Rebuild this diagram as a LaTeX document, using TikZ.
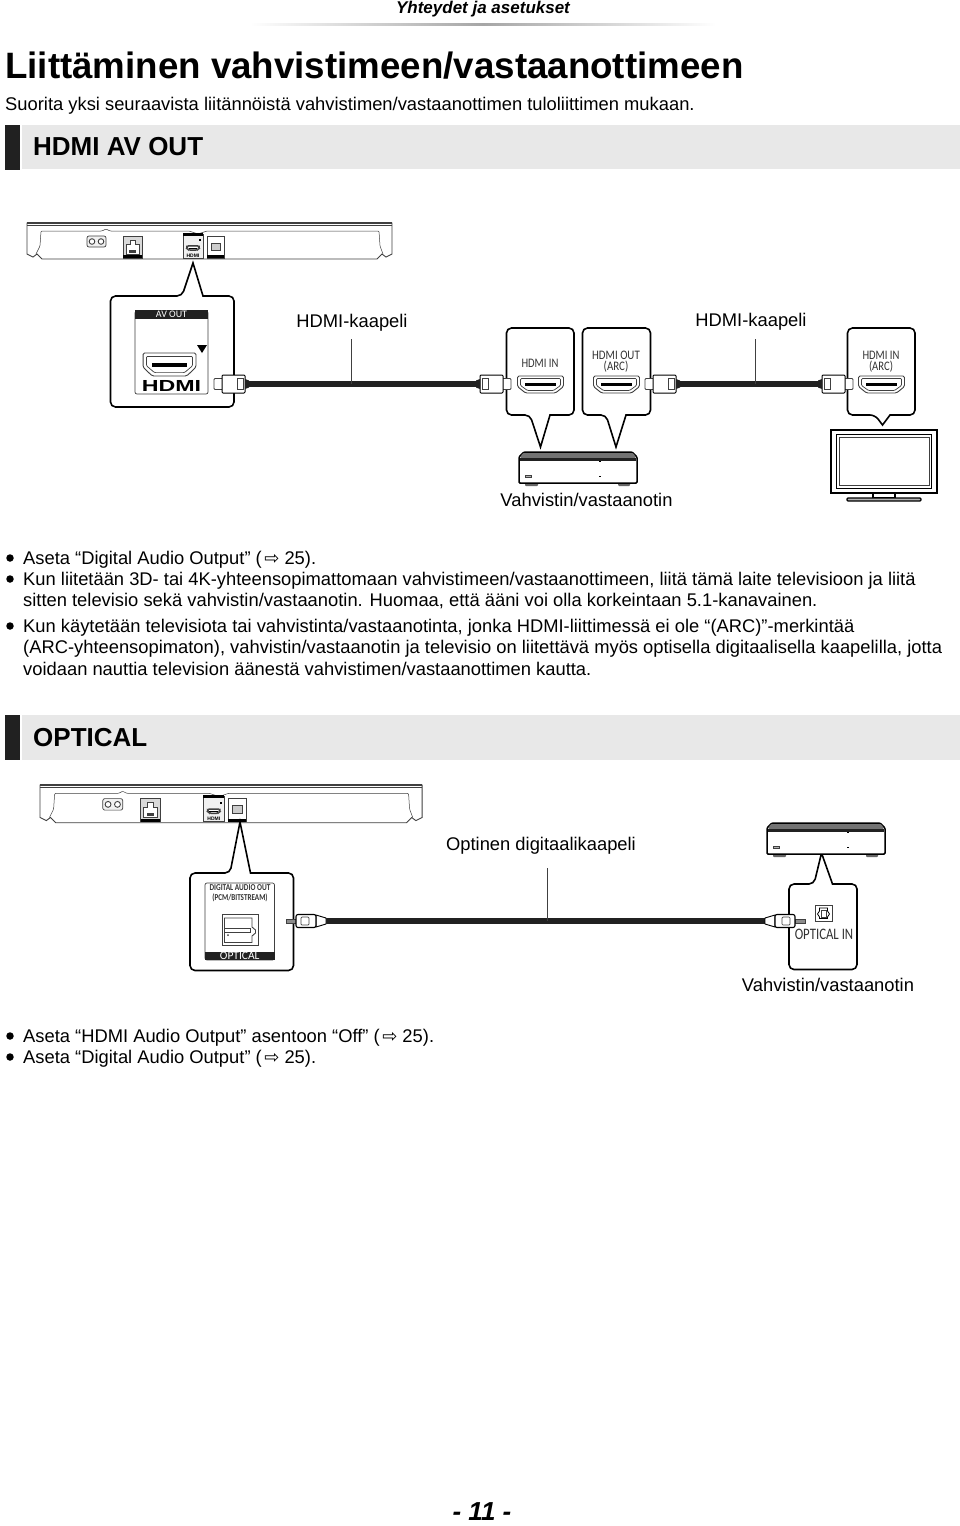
\documentclass[tikz,border=0pt]{standalone}
\usepackage{fontspec}
\setmainfont{Liberation Sans}
\newfontfamily\portfont{Carlito}
\newfontfamily\arrowfont{DejaVu Sans}
\newcommand{\see}{\hspace{2.5pt}{\arrowfont\fontsize{18}{18}\selectfont ⇨}}
\definecolor{bargrey}{gray}{0.91}
\definecolor{barblack}{gray}{0.13}
\definecolor{inkgrey}{gray}{0.25}

\tikzset{
  bodytext/.style={anchor=base west,inner sep=0pt,font=\fontsize{18.35}{20}\selectfont},
  caption/.style={anchor=base,inner sep=0pt,font=\fontsize{18.35}{20}\selectfont},
  heading/.style={anchor=base west,inner sep=0pt,font=\fontsize{26}{30}\selectfont\bfseries},
  bulletdot/.style={circle,fill=black,inner sep=0pt,minimum size=7.5pt},
  portlabel/.style={inner sep=0pt,text=black!80,text height=8pt,text depth=1.5pt,font=\portfont\fontsize{13}{13}\selectfont},
  blackband/.style={fill=barblack,inner sep=0pt,text=white,font=\portfont\fontsize{10}{10}\selectfont},
  callout/.style={draw=black,fill=white,line width=1.6pt},
  thinline/.style={draw=inkgrey,line width=0.7pt},
  cable/.style={line width=5.4pt,draw=barblack},
  leader/.style={draw=inkgrey,line width=0.8pt},
  pics/hdmisocket/.style={code={
    \draw[thinline,line width=0.9pt,fill=white,rounded corners=1.5pt] (-23,-8.5) -- (23,-8.5) -- (23,2) -- (15,8.5) -- (-15,8.5) -- (-23,2) -- cycle;
    \draw[thinline,rounded corners=1pt] (-20,-6) -- (20,-6) -- (20,1) -- (13,6) -- (-13,6) -- (-20,1) -- cycle;
    \fill[black] (-15.5,-1.2) rectangle (15.5,1.6);
  }},
  pics/hdmiplug/.style={code={
    \draw[thinline,line width=0.9pt,fill=white,rounded corners=1pt] (26,-5.5) rectangle (35,5.5);
    \draw[black,line width=1pt,fill=white,rounded corners=1pt] (4,-9) rectangle (27,9);
    \draw[thinline,fill=white] (6,-5.5) rectangle (12,5.5);
    \fill[barblack] (0,-3.5) -- (4,-5) -- (4,5) -- (0,3.5) -- cycle;
  }},
  pics/opticalplug/.style={code={
    \draw[thinline,fill=black!45] (30,-2) rectangle (40,2);
    \draw[black,line width=0.9pt,fill=white] (0,-3) -- (10,-6) -- (10,6) -- (0,3) -- cycle;
    \draw[black,line width=1.1pt,fill=white,rounded corners=2pt] (10,-6.5) rectangle (30,6.5);
    \draw[thinline,fill=white,rounded corners=1pt] (17,-4) rectangle (25,4);
  }},
  pics/rearpanel/.style={code={
    \draw[thinline,line width=0.9pt,fill=white] (0,0) -- (0,31) -- (6,34) -- (10,31) -- (15,36) -- (350,36) -- (355,31) -- (359,34) -- (365,31) -- (365,0) -- cycle;
    \draw[inkgrey,line width=1.3pt] (0,0) -- (365,0);
    \draw[thinline,line width=0.4pt] (0,2) -- (365,2);
    \draw[thinline,line width=0.5pt,rounded corners=1pt] (9,31) -- (13,23) -- (14,8) -- (75,8) -- (79,6) -- (83,8) -- (162,8) -- (171,11) -- (180,8) -- (352,8) -- (353,23) -- (356,31);
    \draw[thinline,fill=black!6,rounded corners=2pt] (60,13) rectangle (79,24);
    \draw[thinline,line width=0.9pt,fill=white] (65,18.5) circle [radius=2.8];
    \draw[thinline,line width=0.9pt,fill=white] (74,18.5) circle [radius=2.8];
    \draw[thinline,fill=black!15] (96,13) rectangle (115,35);
    \draw[thinline,fill=white] (99,21) -- (103,21) -- (103,17) -- (108,17) -- (108,21) -- (112,21) -- (112,31) -- (99,31) -- cycle;
    \fill[inkgrey] (102,27) rectangle (109,30);
    \fill[black] (96,32) rectangle (115,35);
    \draw[thinline,fill=black!6] (156,11) rectangle (176,35);
    \fill[black] (156,10) rectangle (176,12.5);
    \fill[black] (172,16) rectangle (173.8,17.8);
    \pic[scale=0.28] at (166,25) {hdmisocket};
    \node[inner sep=0pt,font=\fontsize{5}{5}\selectfont\bfseries] (-tag) at (166,32.5){HDMI};
    \draw[thinline,fill=white] (180,13) rectangle (197,35);
    \draw[thinline,line width=1pt,fill=black!20] (184,20) rectangle (193,27);
    \fill[black] (180,32) rectangle (197,35);
  }},
  pics/ampfront/.style={code={
    \fill[black!60,rounded corners=1pt] (6,30) rectangle (19,34);
    \fill[black!60,rounded corners=1pt] (99,30) rectangle (111,34);
    \draw[black,line width=1.5pt,fill=white,rounded corners=1pt] (0,5) -- (5,0) -- (113,0) -- (118,5) -- (118,31) -- (0,31) -- cycle;
    \fill[black!55] (3,2) -- (5,1) -- (113,1) -- (115,2) -- (116.5,6) -- (1.5,6) -- cycle;
    \fill[barblack] (1,6) rectangle (117,9);
    \draw[thinline,fill=black!30] (6,23.5) rectangle (12,25.5);
    \fill[black] (80,24) rectangle (81.5,25);
    \fill[black] (80,8.5) rectangle (81.5,9.5);
  }},
  pics/opticalsocket/.style={code={
    \draw[thinline,line width=1pt,fill=white] (-8.5,-8) rectangle (8.5,8);
    \draw[black,line width=0.8pt] (-4,-5) -- (4,-5) -- (4,-2) -- (6,1) -- (4,4) -- (4,5.5) -- (-4,5.5) -- (-4,4) -- (-6,1) -- (-4,-2) -- cycle;
    \draw[thinline] (-2.5,-3) rectangle (2.5,4);
  }}
}

\begin{document}
\begin{tikzpicture}[x=1pt,y=-1pt]
\useasboundingbox (0,0) rectangle (960,1526);

% page header
\node[anchor=base,inner sep=0pt,font=\fontsize{17}{20}\selectfont\bfseries\itshape] (Header) at (483,13){Yhteydet ja asetukset};
\shade[left color=white,right color=white,middle color=black!35] (250,23.5) rectangle (716,25);
\node[anchor=base west,inner sep=0pt,font=\fontsize{36.7}{40}\selectfont\bfseries] (Title) at (5,78){Liittäminen vahvistimeen/vastaanottimeen};
\node[bodytext] (Intro) at (5,110){Suorita yksi seuraavista liitännöistä vahvistimen/vastaanottimen tuloliittimen mukaan.};

% first section
\fill[bargrey] (22,125) rectangle (960,169);
\fill[barblack] (5,125) rectangle (20,169.5);
\node[heading] (HdmiHead) at (33,155){HDMI AV OUT};

\pic (RearA) at (27,223) {rearpanel};

\draw[callout] (182,296) -- (193,263) -- (203,296) [rounded corners=5pt] -- (234,296) -- (234,407) -- (110.5,407) -- (110.5,296) -- cycle;
\draw[thinline,rounded corners=2pt] (135,311) rectangle (208,394);
\node[blackband,minimum width=73pt,text height=7pt,text depth=1.5pt] (AVhead) at (171.5,314.5){AV OUT};
\fill[black] (197,345) -- (207,345) -- (202,353) -- cycle;
\pic[xscale=1.15,yscale=1.35] at (169.5,364.5) {hdmisocket};
\node[inner sep=0pt,font=\fontsize{16}{16}\selectfont\bfseries] (AVlogo) at (171.5,385.5){\scalebox{1.45}[1]{HDMI}};

\draw[callout] (530,415) -- (540.5,447) -- (550,415) [rounded corners=5pt] -- (574,415) -- (574,328) -- (506.5,328) -- (506.5,415) -- cycle;
\draw[callout] (606,415) -- (616,447) -- (626,415) [rounded corners=5pt] -- (650.5,415) -- (650.5,328) -- (582.5,328) -- (582.5,415) -- cycle;
\draw[callout] (875,415) -- (882.5,425) -- (890,415) [rounded corners=5pt] -- (915,415) -- (915,328) -- (847.5,328) -- (847.5,415) -- cycle;

\node[portlabel] (InA) at (540,364){\scalebox{.82}[1]{HDMI IN}};
\node[portlabel] (OutA) at (616,356){\scalebox{.84}[1]{HDMI OUT}};
\node[portlabel] (OutB) at (616,367){\scalebox{.84}[1]{(ARC)}};
\node[portlabel] (InB) at (881,356){\scalebox{.82}[1]{HDMI IN}};
\node[portlabel] (InC) at (881,367){\scalebox{.82}[1]{(ARC)}};
\pic at (540.5,384.5) {hdmisocket};
\pic at (616.5,384.5) {hdmisocket};
\pic at (881.5,384.5) {hdmisocket};

\pic at (519,452) {ampfront};

% television
\draw[black,line width=1.2pt,fill=white] (873,493) rectangle (895,498);
\draw[black,line width=1.2pt,fill=black!30,rounded corners=1pt] (847,498) rectangle (921,501);
\draw[black,line width=1.3pt,fill=white] (831,430) rectangle (937,493);
\draw[black,line width=0.9pt] (836.5,434.5) rectangle (931.5,488);
\draw[thinline,line width=0.4pt] (839,437) rectangle (929,485.5);

\coordinate (PlugA) at (249,384);
\coordinate (PlugB) at (476,384);
\coordinate (PlugC) at (680,384);
\coordinate (PlugD) at (818,384);
\draw[cable] (PlugA) -- (PlugB);
\draw[cable] (PlugC) -- (PlugD);
\pic[xscale=-1] at (PlugA) {hdmiplug};
\pic at (PlugB) {hdmiplug};
\pic[xscale=-1] at (PlugC) {hdmiplug};
\pic at (PlugD) {hdmiplug};

\node[caption] (CableA) at (352,327.5){HDMI-kaapeli};
\node[caption] (CableB) at (751,326){HDMI-kaapeli};
\coordinate (LeadA) at (351,339);
\coordinate (LeadB) at (755,339);
\draw[leader] (LeadA) -- (LeadA |- PlugA);
\draw[leader] (LeadB) -- (LeadB |- PlugC);
\node[caption] (AmpA) at (586.5,506){Vahvistin/vastaanotin};

% notes of the first section
\node[bulletdot] (DotA) at (10,558){};
\node[bodytext] (NoteA) at (23,564){Aseta “Digital Audio Output” (\see{} 25).};
\node[bulletdot] (DotB) at (10,579){};
\node[bodytext] (NoteB) at (23,585){Kun liitetään 3D- tai 4K-yhteensopimattomaan vahvistimeen/vastaanottimeen, liitä tämä laite televisioon ja liitä};
\node[bodytext] (NoteC) at (23,606){sitten televisio sekä vahvistin/vastaanotin. Huomaa, että ääni voi olla korkeintaan 5.1-kanavainen.};
\node[bulletdot] (DotC) at (10,626){};
\node[bodytext] (NoteD) at (23,632){Kun käytetään televisiota tai vahvistinta/vastaanotinta, jonka HDMI-liittimessä ei ole “(ARC)”-merkintää};
\node[bodytext] (NoteE) at (23,653){(ARC-yhteensopimaton), vahvistin/vastaanotin ja televisio on liitettävä myös optisella digitaalisella kaapelilla, jotta};
\node[bodytext] (NoteF) at (23,675){voidaan nauttia television äänestä vahvistimen/vastaanottimen kautta.};

% second section
\fill[bargrey] (22,715) rectangle (960,760);
\fill[barblack] (5,715) rectangle (20,760);
\node[heading] (OptHead) at (33,746){OPTICAL};

\pic[scale=1.047] (RearB) at (40,785) {rearpanel};

\draw[callout] (230,873) -- (240,822) -- (250.5,873) [rounded corners=5pt] -- (293.5,873) -- (293.5,970.5) -- (190,970.5) -- (190,873) -- cycle;
\draw[thinline,rounded corners=2pt] (205,883) rectangle (274.5,960);
\node[portlabel,font=\portfont\fontsize{9}{9}\selectfont\bfseries] (DigA) at (240,887){\scalebox{.81}[1]{DIGITAL AUDIO OUT}};
\node[portlabel,font=\portfont\fontsize{9}{9}\selectfont\bfseries] (DigB) at (240,897){\scalebox{.79}[1]{(PCM/BITSTREAM)}};
\draw[thinline,line width=0.9pt] (222,914) rectangle (258,945.5);
\draw[thinline,line width=0.9pt] (224.5,918) -- (252,918) -- (252,927) -- (255.5,930) -- (255.5,933) -- (252,936) -- (252,942.5) -- (224.5,942.5) -- cycle;
\draw[thinline,line width=0.9pt] (224.5,928) rectangle (250,932.5);
\fill[inkgrey] (228,935) circle [radius=1];
\node[blackband,minimum width=69.5pt,text height=7.5pt,text depth=1pt,font=\portfont\fontsize{11.5}{11.5}\selectfont] (OptBand) at (239.75,955.75){OPTICAL};

\draw[callout] (814,884) -- (821.5,853) -- (832.5,884) [rounded corners=5pt] -- (857,884) -- (857,969.5) -- (789,969.5) -- (789,884) -- cycle;
\pic at (823.5,913) {opticalsocket};
\node[portlabel,text height=11pt,text depth=3pt,font=\portfont\fontsize{16}{16}\selectfont] (OptIn) at (824,935){\scalebox{.8}[1]{OPTICAL IN}};

\pic at (767,823) {ampfront};

\coordinate (PlugE) at (326,921);
\coordinate (PlugF) at (765,921);
\draw[cable] (PlugE) -- (PlugF);
\pic[xscale=-1] at (PlugE) {opticalplug};
\pic at (PlugF) {opticalplug};

\node[caption] (CableC) at (541,850){Optinen digitaalikaapeli};
\coordinate (LeadC) at (547.5,868);
\draw[leader] (LeadC) -- (LeadC |- PlugE);
\node[caption] (AmpB) at (828,991){Vahvistin/vastaanotin};

% notes of the second section
\node[bulletdot] (DotD) at (10,1036){};
\node[bodytext] (NoteG) at (23,1042){Aseta “HDMI Audio Output” asentoon “Off” (\see{} 25).};
\node[bulletdot] (DotE) at (10,1057){};
\node[bodytext] (NoteH) at (23,1063){Aseta “Digital Audio Output” (\see{} 25).};

% page number
\node[anchor=base,inner sep=0pt,font=\fontsize{26}{26}\selectfont\bfseries\itshape] (PageNo) at (482,1520.5){- 11 -};
\end{tikzpicture}
\end{document}
